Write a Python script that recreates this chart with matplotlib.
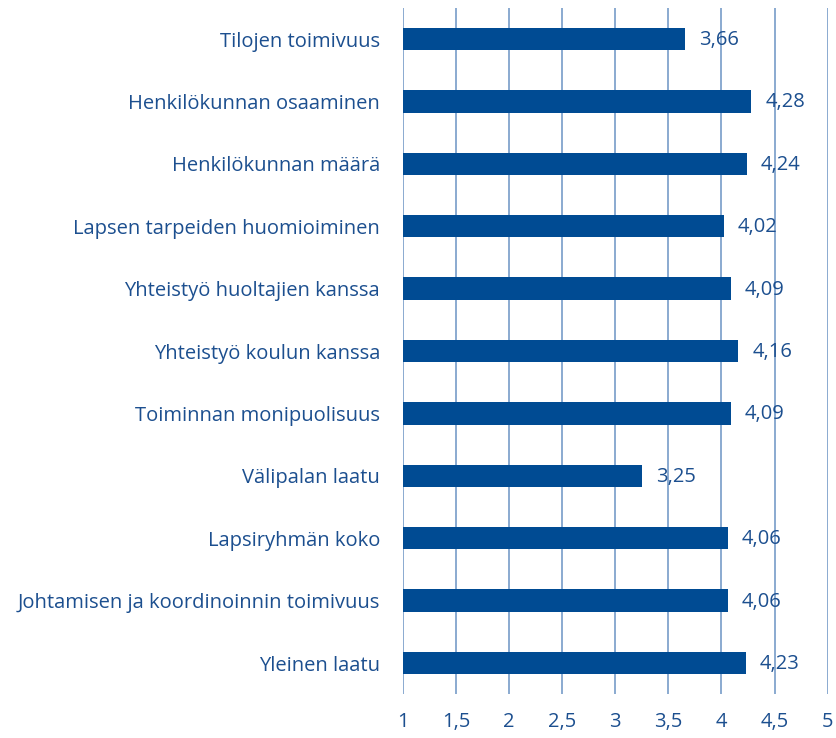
import matplotlib
matplotlib.use("Agg")
import matplotlib.pyplot as plt

categories = [
    "Tilojen toimivuus",
    "Henkilökunnan osaaminen",
    "Henkilökunnan määrä",
    "Lapsen tarpeiden huomioiminen",
    "Yhteistyö huoltajien kanssa",
    "Yhteistyö koulun kanssa",
    "Toiminnan monipuolisuus",
    "Välipalan laatu",
    "Lapsiryhmän koko",
    "Johtamisen ja koordinoinnin toimivuus",
    "Yleinen laatu",
]
values = [3.66, 4.28, 4.24, 4.02, 4.09, 4.16, 4.09, 3.25, 4.06, 4.06, 4.23]
ticks = [1, 1.5, 2, 2.5, 3, 3.5, 4, 4.5, 5]
tick_labels = ["1", "1,5", "2", "2,5", "3", "3,5", "4", "4,5", "5"]

BAR = "#004b93"
TEXT = "#1c4f8f"
GRID = "#6b93c4"

plt.rcParams["font.family"] = ["Open Sans", "DejaVu Sans"]

fig = plt.figure(figsize=(8.36, 7.38), dpi=100)
ax = fig.add_axes([0.482, 0.0593, 0.508, 0.9301])

y = list(range(len(categories)))
ax.barh(y, [v - 1 for v in values], left=1, height=0.36, color=BAR, zorder=2)

# value labels sit a little right of each bar end
for yi, v in zip(y, values):
    ax.annotate(f"{v:.2f}".replace(".", ","), (v, yi), xytext=(14, -1),
                textcoords="offset pixels",
                va="center", ha="left", fontsize=14.5, color=TEXT, zorder=3)

for t in ticks:
    ax.axvline(t, color=GRID, lw=1.1, zorder=1)

ax.set_xlim(1, 5)
ax.set_ylim(len(categories) - 0.5, -0.5)
ax.set_xticks(ticks)
ax.set_xticklabels(tick_labels)
ax.set_yticks(y)
ax.set_yticklabels(categories)
ax.tick_params(axis="both", length=0, labelsize=14.5, colors=TEXT)
ax.tick_params(axis="y", pad=16.5)
ax.tick_params(axis="x", pad=13)
for s in ax.spines.values():
    s.set_visible(False)

fig.savefig("out.png", dpi=100)
